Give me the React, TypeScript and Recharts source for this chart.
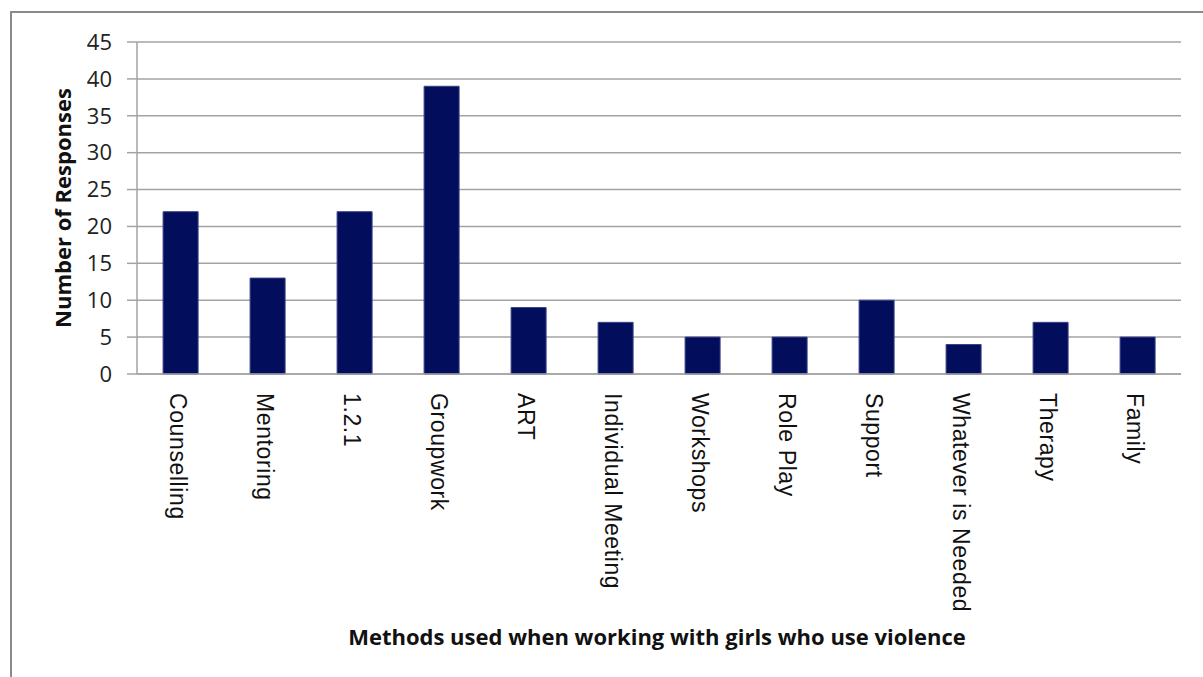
import { BarChart, Bar, XAxis, YAxis, CartesianGrid } from 'recharts'

const methods = [
  'Counselling',
  'Mentoring',
  '1.2.1',
  'Groupwork',
  'ART',
  'Individual Meeting',
  'Workshops',
  'Role Play',
  'Support',
  'Whatever is Needed',
  'Therapy',
  'Family',
]
const responses = [22, 13, 22, 39, 9, 7, 5, 5, 10, 4, 7, 5]
const yTicks = [0, 5, 10, 15, 20, 25, 30, 35, 40, 45]

const xTitle = 'Methods used when working with girls who use violence'
const yTitle = 'Number of Responses'

const data = methods.map((method, i) => ({ method, responses: responses[i] }))

const GRID = '#a3a3a3'
const BAR = '#020d5b'

// category names run top-to-bottom under each bar
function RotatedTick({ x, y, payload }: any) {
  return (
    <text
      transform={`translate(${x - 3},${y + 11}) rotate(90)`}
      textAnchor="start"
      dominantBaseline="central"
      fontFamily="'Liberation Sans', Arial, sans-serif"
      fontSize={23}
      letterSpacing={0.6}
      fill="#111"
    >
      {payload.value}
    </text>
  )
}

export default function App() {
  return (
    <div style={{ position: 'absolute', left: 0, top: 0, width: 1203, height: 677, background: '#fff' }}>
      <div
        style={{
          position: 'absolute',
          left: 10,
          top: 11,
          width: 1210,
          height: 700,
          border: '2px solid #8a8a8a',
          boxSizing: 'border-box',
        }}
      />
      <BarChart
        width={1203}
        height={677}
        data={data}
        margin={{ top: 42, right: 22, left: 0, bottom: 0 }}
        barCategoryGap="30%"
        style={{ position: 'absolute', left: 0, top: 0 }}
      >
        <CartesianGrid vertical={false} stroke={GRID} strokeWidth={1.5} />
        <XAxis
          dataKey="method"
          height={303}
          interval={0}
          tickLine={false}
          axisLine={{ stroke: GRID, strokeWidth: 1.5 }}
          tick={<RotatedTick />}
          label={{
            content: ({ viewBox }: any) => (
              <text
                x={viewBox.x + viewBox.width / 2 - 2}
                y={viewBox.y + 262}
                textAnchor="middle"
                dominantBaseline="central"
                fontFamily="'Open Sans', sans-serif"
                fontWeight={700}
                fontSize={22}
                fill="#111"
              >
                {xTitle}
              </text>
            ),
          }}
        />
        <YAxis
          width={137}
          domain={[0, 45]}
          ticks={yTicks}
          interval={0}
          tickSize={10}
          tickMargin={15}
          tickLine={{ stroke: GRID, strokeWidth: 1.5 }}
          axisLine={{ stroke: GRID, strokeWidth: 1.5 }}
          tick={{ fontFamily: "'Open Sans', sans-serif", fontSize: 22, fill: '#222' }}
          label={{
            content: ({ viewBox }: any) => {
              const cx = viewBox.x + 62
              const cy = viewBox.y + viewBox.height / 2
              return (
                <text
                  x={cx}
                  y={cy}
                  transform={`rotate(-90, ${cx}, ${cy})`}
                  textAnchor="middle"
                  dominantBaseline="central"
                  fontFamily="'Open Sans', sans-serif"
                  fontWeight={700}
                  fontSize={22}
                  fill="#111"
                >
                  {yTitle}
                </text>
              )
            },
          }}
        />
        <Bar dataKey="responses" fill={BAR} stroke="#3a4185" strokeWidth={1} isAnimationActive={false} />
      </BarChart>
    </div>
  )
}
